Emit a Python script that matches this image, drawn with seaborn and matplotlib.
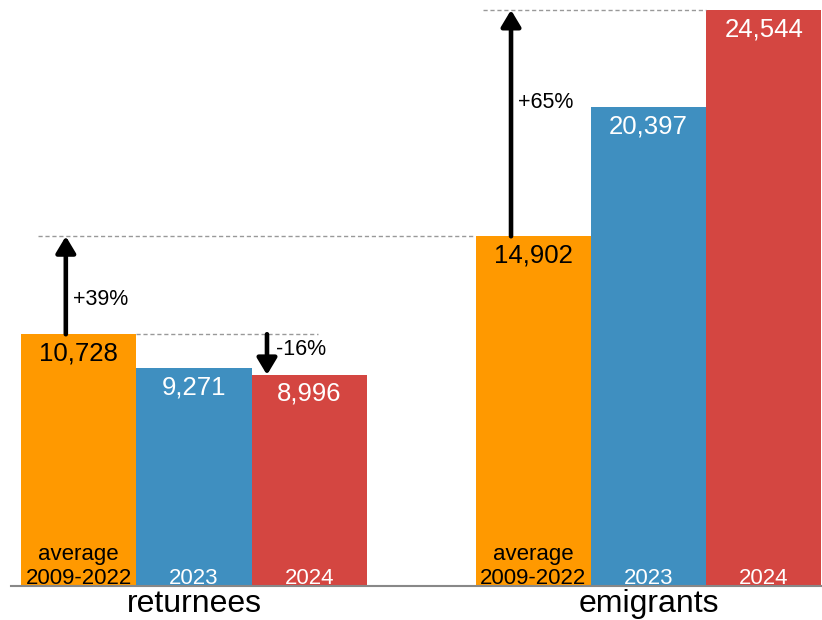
import matplotlib
matplotlib.use("Agg")
import matplotlib.pyplot as plt
import seaborn as sns
import pandas as pd

# ---- data ----
groups = ["returnees", "emigrants"]
periods = ["average\n2009-2022", "2023", "2024"]
returnees = [10728, 9271, 8996]
emigrants = [14902, 20397, 24544]
period_colors = ["#FF9900", "#3F8FC0", "#D44641"]
period_text_colors = ["black", "white", "white"]
changes = ["+39%", "-16%", "+65%"]

rows = []
for g, vals in zip(groups, [returnees, emigrants]):
    for p, v in zip(periods, vals):
        rows.append({"group": g, "period": p, "value": v})
df = pd.DataFrame(rows)

sns.set_theme(style="white")
plt.rcParams["font.family"] = ["Liberation Sans", "DejaVu Sans"]

W, H = 822, 620
fig = plt.figure(figsize=(W / 100, H / 100), dpi=100)
ax = fig.add_axes([11 / W, 34 / H, (W - 11) / W, (H - 34) / H])

width = 0.761
sns.barplot(data=df, x="group", y="value", hue="period", order=groups,
            hue_order=periods, palette=dict(zip(periods, period_colors)),
            width=width, gap=0, ax=ax, legend=False, saturation=1,
            linewidth=0, errorbar=None)

ymax = max(emigrants) * 586 / 576
ax.set_ylim(0, ymax)
ax.set_xlim(-0.4026, 1.3817)

bw = width / 3
from matplotlib.transforms import offset_copy

for gi, vals in enumerate([returnees, emigrants]):
    for pi, v in enumerate(vals):
        x = gi + (pi - 1) * bw
        tr_top = offset_copy(ax.transData, fig=fig, x=0, y=-7, units="dots")
        ax.text(x, v, f"{v:,}", ha="center", va="top", fontsize=18.5,
                color=period_text_colors[pi], transform=tr_top)
        tr_bot = offset_copy(ax.transData, fig=fig, x=0, y=2, units="dots")
        ax.text(x, 0, periods[pi], ha="center", va="baseline", fontsize=16,
                color=period_text_colors[pi], transform=tr_bot,
                linespacing=1.2)

# dashed reference lines
dash_kw = dict(color="#999999", lw=1, ls=(0, (3, 2)))
ax.plot([-0.343, 1 - 0.3815], [emigrants[0], emigrants[0]], **dash_kw)
ax.plot([-0.1268, 0.2728], [returnees[0], returnees[0]], **dash_kw)
ax.plot([0.636, 1.1268], [emigrants[2], emigrants[2]], **dash_kw)

# arrows
arrow_kw = dict(arrowstyle="-|>,head_length=0.45,head_width=0.27", color="black",
                lw=3.3, mutation_scale=22, shrinkA=0, shrinkB=0)
arrows = [(-0.282, returnees[0], emigrants[0]),
          (0.1606, returnees[0], returnees[2]),
          (1 - 0.3025, emigrants[0], emigrants[2])]
label_y = [(returnees[0] + emigrants[0]) / 2 - 600, returnees[0] - 640,
           emigrants[2] - 3940]
label_dx = [7, 9, 7]
for (x, y0, y1), lab, ly, dx in zip(arrows, changes, label_y, label_dx):
    ax.annotate("", xy=(x, y1), xytext=(x, y0), arrowprops=arrow_kw)
    tr = offset_copy(ax.transData, fig=fig, x=dx, y=0, units="dots")
    ax.text(x, ly, lab, ha="left", va="center", fontsize=15.5, color="black",
            transform=tr)

# axes styling
for s in ["top", "right", "left"]:
    ax.spines[s].set_visible(False)
ax.spines["bottom"].set_color("#888888")
ax.spines["bottom"].set_linewidth(1.5)
ax.set_yticks([])
ax.set_xlabel("")
ax.set_ylabel("")
ax.tick_params(axis="x", length=0, pad=2, labelsize=23, labelcolor="black")

fig.savefig("out.png", dpi=100)
